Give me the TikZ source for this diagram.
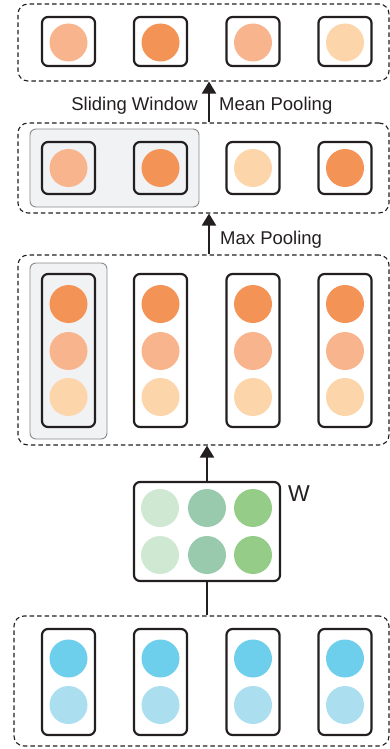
\documentclass[tikz,border=0pt]{standalone}
\usepackage{fontspec}
\setmainfont{Liberation Sans}
\usetikzlibrary{arrows.meta,calc}
\definecolor{oD}{HTML}{F39355}
\definecolor{oM}{HTML}{F8B48C}
\definecolor{oL}{HTML}{FDD5AA}
\definecolor{gL}{HTML}{CFE8D1}
\definecolor{gM}{HTML}{9ACAAD}
\definecolor{gD}{HTML}{95CD88}
\definecolor{bD}{HTML}{6ECFEC}
\definecolor{bL}{HTML}{ABDEEF}
\definecolor{grayfill}{HTML}{F1F2F4}
\definecolor{grayline}{HTML}{8A8A8A}
\definecolor{ink}{HTML}{231F20}
\tikzset{
  layer/.style={draw=ink, line width=1.1pt, dash pattern=on 4.5pt off 3pt, rounded corners=10pt, inner sep=0pt},
  cell/.style={draw=ink, line width=2.2pt, rounded corners=6pt, minimum width=53pt, inner sep=0pt},
  win/.style={draw=grayline, fill=grayfill, line width=0.9pt, rounded corners=6pt, inner sep=0pt},
  dot/.style={circle, minimum size=38pt, inner sep=0pt},
  arr/.style={draw=ink, line width=2pt, -{Triangle[width=14pt,length=12pt]}},
  lbl/.style={font=\fontsize{18.5}{21}\selectfont, text=ink, inner sep=0pt},
}
\begin{document}
\begin{tikzpicture}[x=1pt,y=-1pt]
\useasboundingbox (0,0) rectangle (390,749);
% layers (dashed)
\node[layer, minimum width=371pt, minimum height=77pt] (L1) at (203.5,42.5) {};
\node[layer, minimum width=371pt, minimum height=90pt] (L2) at (203.5,168) {};
\node[layer, minimum width=371pt, minimum height=190pt] (L3) at (203.5,350) {};
\node[layer, minimum width=375pt, minimum height=130pt] (L4) at (201.5,681) {};
% gray windows
\node[win, minimum width=169pt, minimum height=78pt] (G2) at (114.5,168) {};
\node[win, minimum width=77pt, minimum height=176pt] (G3) at (68.5,351) {};
% top row
\foreach \i/\x/\c in {1/68.5/oM,2/160.5/oD,3/253/oM,4/345/oL}{
  \node[cell, minimum height=49pt] (T\i) at (\x,41.5) {};
  \node[dot, fill=\c] (Tc\i) at (\x,42.5) {};
}
% second row
\foreach \i/\x/\c in {1/68.5/oM,2/160.5/oD,3/253/oL,4/345/oD}{
  \node[cell, minimum height=52pt] (S\i) at (\x,168) {};
  \node[dot, fill=\c] (Sc\i) at (\x,168) {};
}
% third row
\foreach \i/\x in {1/68.5,2/160.5,3/253,4/345}{
  \node[cell, minimum height=153pt] (R\i) at (\x,350.5) {};
  \node[dot, fill=oD] (Ra\i) at (\x,304) {};
  \node[dot, fill=oM] (Rb\i) at (\x,351) {};
  \node[dot, fill=oL] (Rc\i) at (\x,397) {};
}
% bottom row
\foreach \i/\x in {1/68.5,2/160.5,3/253,4/345}{
  \node[cell, minimum height=106pt] (B\i) at (\x,682) {};
  \node[dot, fill=bD] (Ba\i) at (\x,658.5) {};
  \node[dot, fill=bL] (Bb\i) at (\x,705) {};
}
% W box
\node[cell, minimum width=146pt, minimum height=99pt] (W) at (207,531.5) {};
\foreach \j/\x/\c in {1/160/gL,2/207/gM,3/253/gD}{
  \node[dot, fill=\c] (Wa\j) at (\x,508) {};
  \node[dot, fill=\c] (Wb\j) at (\x,555) {};
}
\node[lbl, font=\fontsize{23}{26}\selectfont, anchor=west] (Wl) at (288,494) {W};
% connectors
\coordinate (ax) at (209,0);
\draw[arr] (L2.north -| ax) -- (L1.south -| ax);
\draw[arr] (L3.north -| ax) -- (L2.south -| ax);
\draw[arr] (W.north) -- (W.north |- L3.south);
\draw[draw=ink, line width=2pt] (W.south) -- (W.south |- L4.north);
% labels
\node[lbl, anchor=east] (sw) at (198,105.5) {Sliding Window};
\node[lbl, anchor=west] (mp) at (219,105.5) {Mean Pooling};
\node[lbl, anchor=west] (xp) at (220,239.5) {Max Pooling};
\end{tikzpicture}
\end{document}
